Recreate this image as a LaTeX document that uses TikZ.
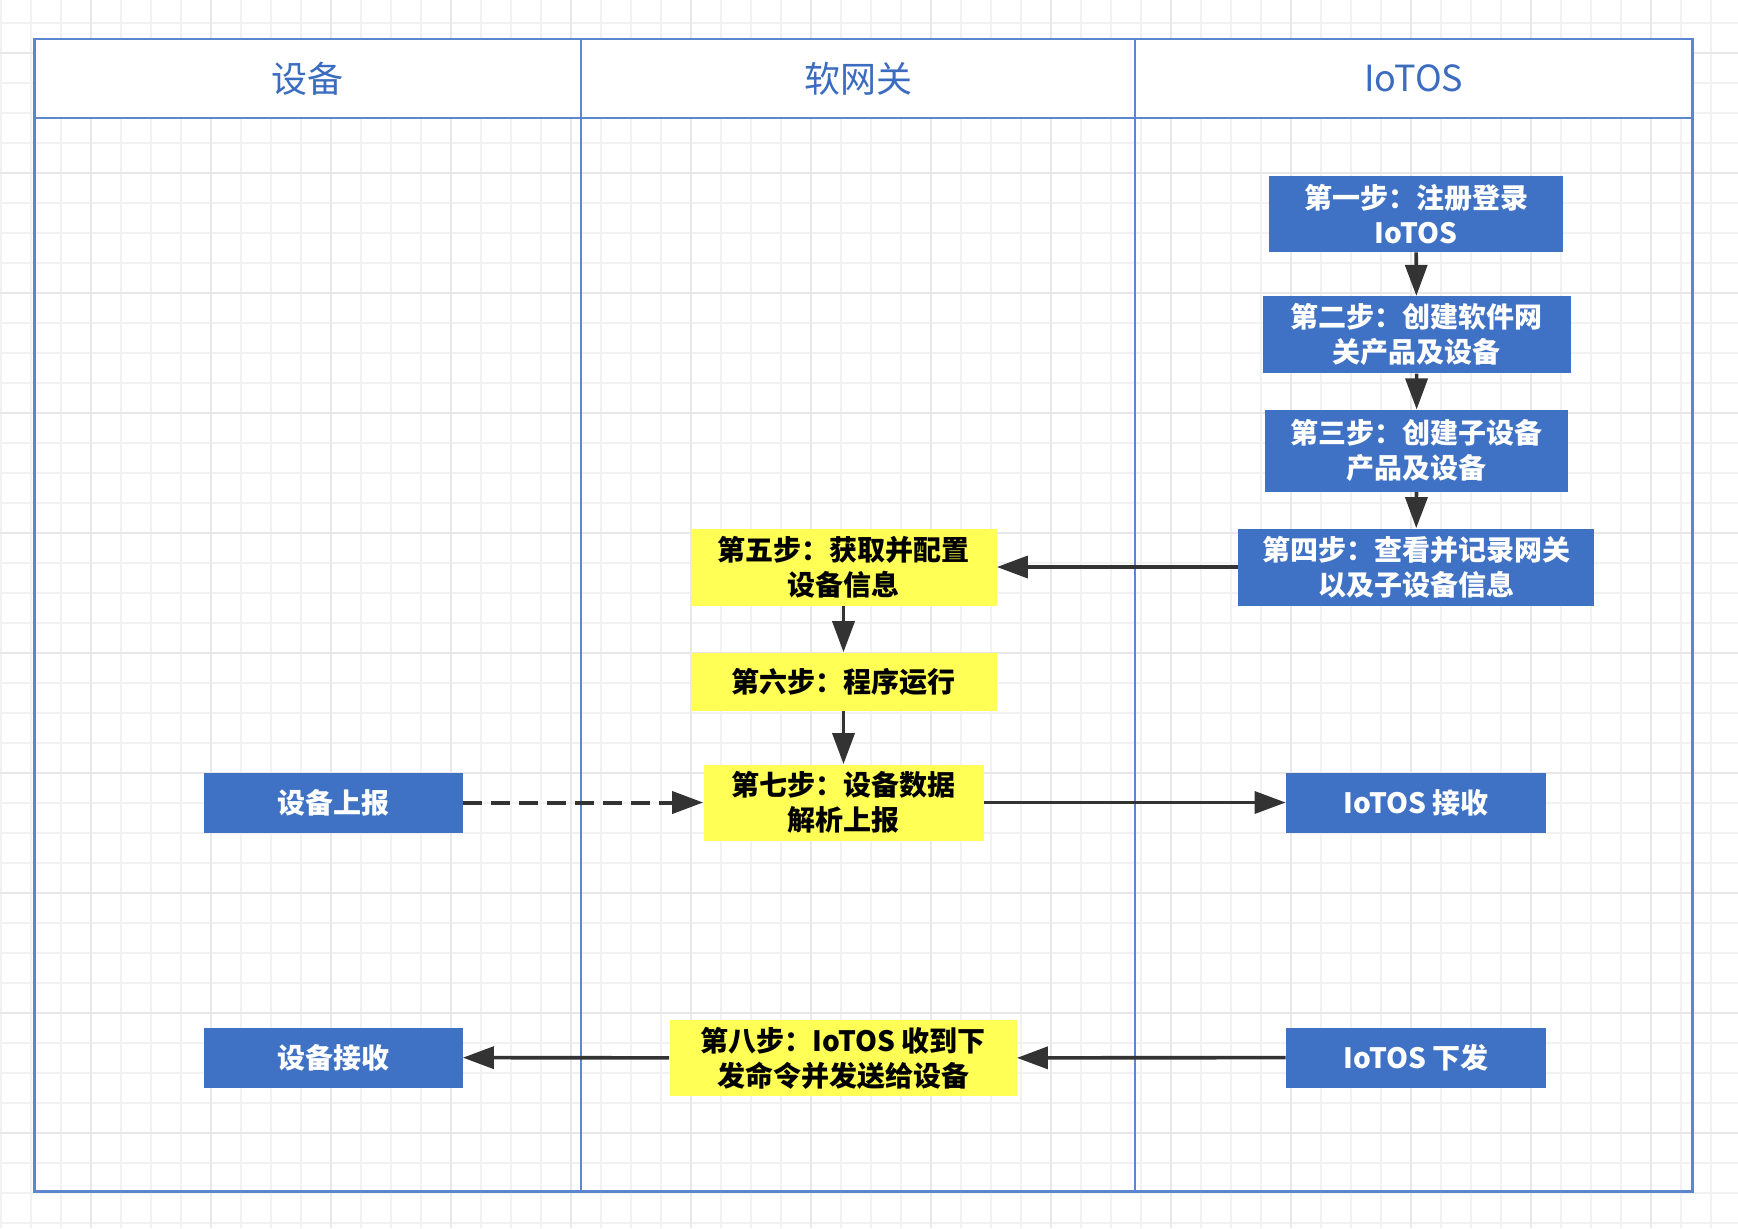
\documentclass[tikz,border=0pt]{standalone}
\usepackage{fontspec}
\setmainfont{Noto Sans CJK SC}
\usetikzlibrary{arrows.meta}
\definecolor{poolblue}{HTML}{5A87D0}
\definecolor{boxblue}{HTML}{3F71C4}
\definecolor{headblue}{HTML}{3B6CC0}
\definecolor{stepyellow}{HTML}{FFFF55}
\definecolor{arrowgray}{HTML}{333333}
\begin{document}
\begin{tikzpicture}[x=0.5pt,y=-0.5pt,
	minorgrid/.style={line width=1pt,color=black!5},
	majorgrid/.style={line width=1.2pt,color=black!9},
	lane/.style={line width=1.3pt,color=poolblue},
	lanetitle/.style={text=headblue,font=\fontsize{18pt}{22pt}\selectfont},
	bluebox/.style={fill=boxblue,text=white,inner sep=0pt,align=center,
		font=\bfseries\fontsize{14pt}{17.5pt}\selectfont},
	yellowbox/.style={fill=stepyellow,text=black,inner sep=0pt,align=center,
		font=\bfseries\fontsize{14pt}{17.5pt}\selectfont},
	arr/.style={line width=1.8pt,color=arrowgray,-{Triangle[length=15.5pt,width=11pt]}}]
	\useasboundingbox (0,0) rectangle (1738,1228);
	\fill[white] (0,0) rectangle (1738,1228);
	% background grid
	\foreach \i in {0,...,57} \draw[minorgrid] ({1+30*\i},0) -- ({1+30*\i},1228);
	\foreach \i in {0,...,40} \draw[minorgrid] (0,{23+30*\i}) -- (1738,{23+30*\i});
	\foreach \i in {0,...,13} \draw[majorgrid] ({91+120*\i},0) -- ({91+120*\i},1228);
	\foreach \i in {0,...,9} \draw[majorgrid] (0,{53+120*\i}) -- (1738,{53+120*\i});
	% swimlanes
	\fill[white] (34.5,39) rectangle (1692.5,118);
	\draw[lane] (34.5,39) rectangle (1692.5,1191.5);
	\draw[lane] (34.5,118) -- (1692.5,118);
	\draw[lane] (581,39) -- (581,1191.5);
	\draw[lane] (1135,39) -- (1135,1191.5);
	\node[lanetitle] (dev) at (307.7,78.5) {设备};
	\node[lanetitle] (gw) at (858,78.5) {软网关};
	\node[lanetitle] (os) at (1413.7,78.5) {IoTOS};
	% steps
	\node[bluebox,minimum width=147pt,minimum height=38pt] (s1) at (1416,214) {第一步：注册登录\\IoTOS};
	\node[bluebox,minimum width=154pt,minimum height=38.5pt] (s2) at (1416.5,334.7) {第二步：创建软件网\\关产品及设备};
	\node[bluebox,minimum width=151.5pt,minimum height=41pt] (s3) at (1416.7,450.8) {第三步：创建子设备\\产品及设备};
	\node[bluebox,minimum width=178pt,minimum height=38.5pt] (s4) at (1416,567) {第四步：查看并记录网关\\以及子设备信息};
	\node[yellowbox,minimum width=153pt,minimum height=38.5pt] (s5) at (843.5,567) {第五步：获取并配置\\设备信息};
	\node[yellowbox,minimum width=153pt,minimum height=29pt] (s6) at (843.5,681.6) {第六步：程序运行};
	\node[yellowbox,minimum width=140pt,minimum height=38pt] (s7) at (843.5,802.5) {第七步：设备数据\\解析上报};
	\node[yellowbox,minimum width=173.5pt,minimum height=38pt] (s8) at (843,1058) {第八步：IoTOS 收到下\\发命令并发送给设备};
	\node[bluebox,minimum width=129.5pt,minimum height=30pt] (up) at (333,802.5) {设备上报};
	\node[bluebox,minimum width=130pt,minimum height=30pt] (recv) at (1416,802.5) {IoTOS 接收};
	\node[bluebox,minimum width=129.5pt,minimum height=30pt] (down) at (333,1057.5) {设备接收};
	\node[bluebox,minimum width=130pt,minimum height=30pt] (send) at (1416,1057.5) {IoTOS 下发};
	% connectors
	\draw[arr] (s1) -- (s2);
	\draw[arr] (s2) -- (s3);
	\draw[arr] (s3) -- (s4);
	\draw[arr] (s4) -- (s5);
	\draw[arr] (s5) -- (s6);
	\draw[arr] (s6) -- (s7);
	\draw[arr,line width=2pt,dash pattern=on 9.5pt off 4.5pt] (up) -- (s7);
	\draw[arr] (s7) -- (recv);
	\draw[arr] (send) -- (s8);
	\draw[arr] (s8) -- (down);
\end{tikzpicture}
\end{document}
